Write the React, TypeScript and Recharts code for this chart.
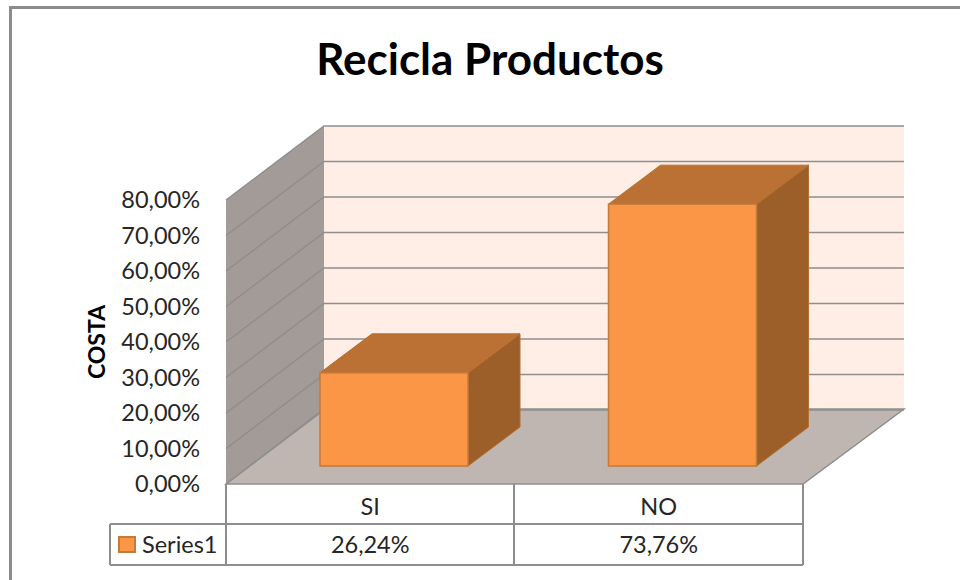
import { BarChart, Bar, XAxis, YAxis, CartesianGrid, Customized } from 'recharts';

const categories = ['SI', 'NO'];
const shares = [26.24, 73.76];
const yTicks = [0, 10, 20, 30, 40, 50, 60, 70, 80];
const seriesName = 'Series1';

const data = categories.map((name, i) => ({ name, value: shares[i] }));

const FONT = 'Lato, sans-serif';
const TEXT = '#262626';
const LINE = '#8e8e8e';

// Plot rectangle and the fake 3D projection
const PLOT = { left: 226, right: 803, top: 200, bottom: 484 };
const WALL = { left: 324, right: 904, top: 126, bottom: 409 };
const BOX = { shiftX: 24, shiftY: -18, depthX: 52, depthY: -39 };
const TABLE = { left: 110, mid: 514, row1: 524, bottom: 565 };

const pct = (v: number) => `${v.toFixed(2).replace('.', ',')}%`;

// Sits behind the chart's svg so the gridlines land on top of it
function Walls() {
  const { left, right, top, bottom } = WALL;
  return (
    <svg width={960} height={580} style={{ position: 'absolute', left: 0, top: 0 }}>
      <polygon points={`${left},${top} ${right},${top} ${right},${bottom} ${left},${bottom}`} fill="#feeee6" />
      <polygon
        points={`${PLOT.left},${PLOT.top} ${left},${top} ${left},${bottom} ${PLOT.left},${PLOT.bottom}`}
        fill="#a29b97"
      />
      <polygon
        points={`${PLOT.left},${PLOT.bottom} ${left},${bottom} ${right},${bottom} ${PLOT.right},${PLOT.bottom}`}
        fill="#bfb5b1"
        stroke={LINE}
        strokeWidth={1.5}
      />
    </svg>
  );
}

// Each gridline runs along the side wall, then across the back wall
function gridLine(props: any) {
  const y = props.y1;
  const backY = y + (WALL.top - PLOT.top);
  return (
    <polyline
      key={props.key ?? y}
      points={`${PLOT.left},${y} ${WALL.left},${backY} ${WALL.right},${backY}`}
      fill="none"
      stroke={LINE}
      strokeWidth={1.5}
    />
  );
}

function Box3D({ x, y, width, height }: any) {
  const fx = x + BOX.shiftX;
  const fy = y + BOX.shiftY;
  const r = fx + width;
  const b = fy + height;
  const { depthX: dx, depthY: dy } = BOX;
  return (
    <g>
      <polygon points={`${r},${fy} ${r + dx},${fy + dy} ${r + dx},${b + dy} ${r},${b}`} fill="#9c5f2a" stroke="#b56f31" />
      <polygon points={`${fx},${fy} ${fx + dx},${fy + dy} ${r + dx},${fy + dy} ${r},${fy}`} fill="#bb7133" stroke="#b56f31" />
      <rect x={fx} y={fy} width={width} height={height} fill="#fa9646" stroke="#c47a3a" strokeWidth={1.5} />
    </g>
  );
}

// Category name plus its value row in the data table underneath
function TableTick({ x, payload }: any) {
  const i = categories.indexOf(payload.value);
  return (
    <g fontFamily={FONT} fontSize={23.5} fill={TEXT} textAnchor="middle">
      <text x={x} y={515}>{payload.value}</text>
      <text x={x} y={553}>{pct(shares[i])}</text>
    </g>
  );
}

function DataTable() {
  const { left, mid, row1, bottom } = TABLE;
  return (
    <g>
      <g fill="none" stroke={LINE} strokeWidth={2}>
        <polyline points={`${PLOT.left},${PLOT.bottom} ${PLOT.left},${bottom}`} />
        <polyline points={`${PLOT.right},${PLOT.bottom} ${PLOT.right},${bottom}`} />
        <polyline points={`${mid},${PLOT.bottom} ${mid},${bottom}`} />
        <polyline points={`${left},${row1} ${PLOT.right},${row1}`} />
        <polyline points={`${left},${bottom} ${PLOT.right},${bottom}`} />
        <polyline points={`${left},${row1} ${left},${bottom}`} />
      </g>
      <rect x={119} y={537} width={16} height={15} fill="#fa9646" stroke="#c47a3a" strokeWidth={2} />
      <text x={142} y={553} fontFamily={FONT} fontSize={23.5} fill={TEXT}>{seriesName}</text>
    </g>
  );
}

export default function App() {
  return (
    <div style={{ position: 'absolute', left: 0, top: 0, width: 960, height: 580, overflow: 'hidden', background: '#fff' }}>
      <div
        style={{
          position: 'absolute',
          left: 9,
          top: 6,
          width: 1000,
          height: 640,
          border: '3px solid #8c8c8c',
          boxSizing: 'border-box',
        }}
      />
      <Walls />
      <BarChart
        width={960}
        height={580}
        data={data}
        margin={{ top: PLOT.top, right: 960 - PLOT.right, bottom: 0, left: PLOT.left - 120 }}
      >
        <CartesianGrid horizontal={gridLine} vertical={false} />
        <XAxis dataKey="name" axisLine={false} tickLine={false} tick={<TableTick />} height={580 - PLOT.bottom} />
        <YAxis
          width={120}
          domain={[0, 80]}
          ticks={yTicks}
          interval={0}
          tickFormatter={pct}
          axisLine={false}
          tickLine={false}
          tickMargin={20}
          tick={{ fontFamily: FONT, fontSize: 23.5, fill: TEXT }}
          label={{
            value: 'COSTA',
            angle: -90,
            position: 'insideLeft',
            offset: -9,
            style: { fontFamily: FONT, fontSize: 23, fontWeight: 700, fill: '#000', textAnchor: 'middle' },
          }}
        />
        <Bar dataKey="value" barSize={148} shape={<Box3D />} isAnimationActive={false} />
        <Customized component={DataTable} />
        <text x={490} y={75} textAnchor="middle" fontFamily={FONT} fontSize={44} fontWeight={700} fill="#000">
          Recicla Productos
        </text>
      </BarChart>
    </div>
  );
}
